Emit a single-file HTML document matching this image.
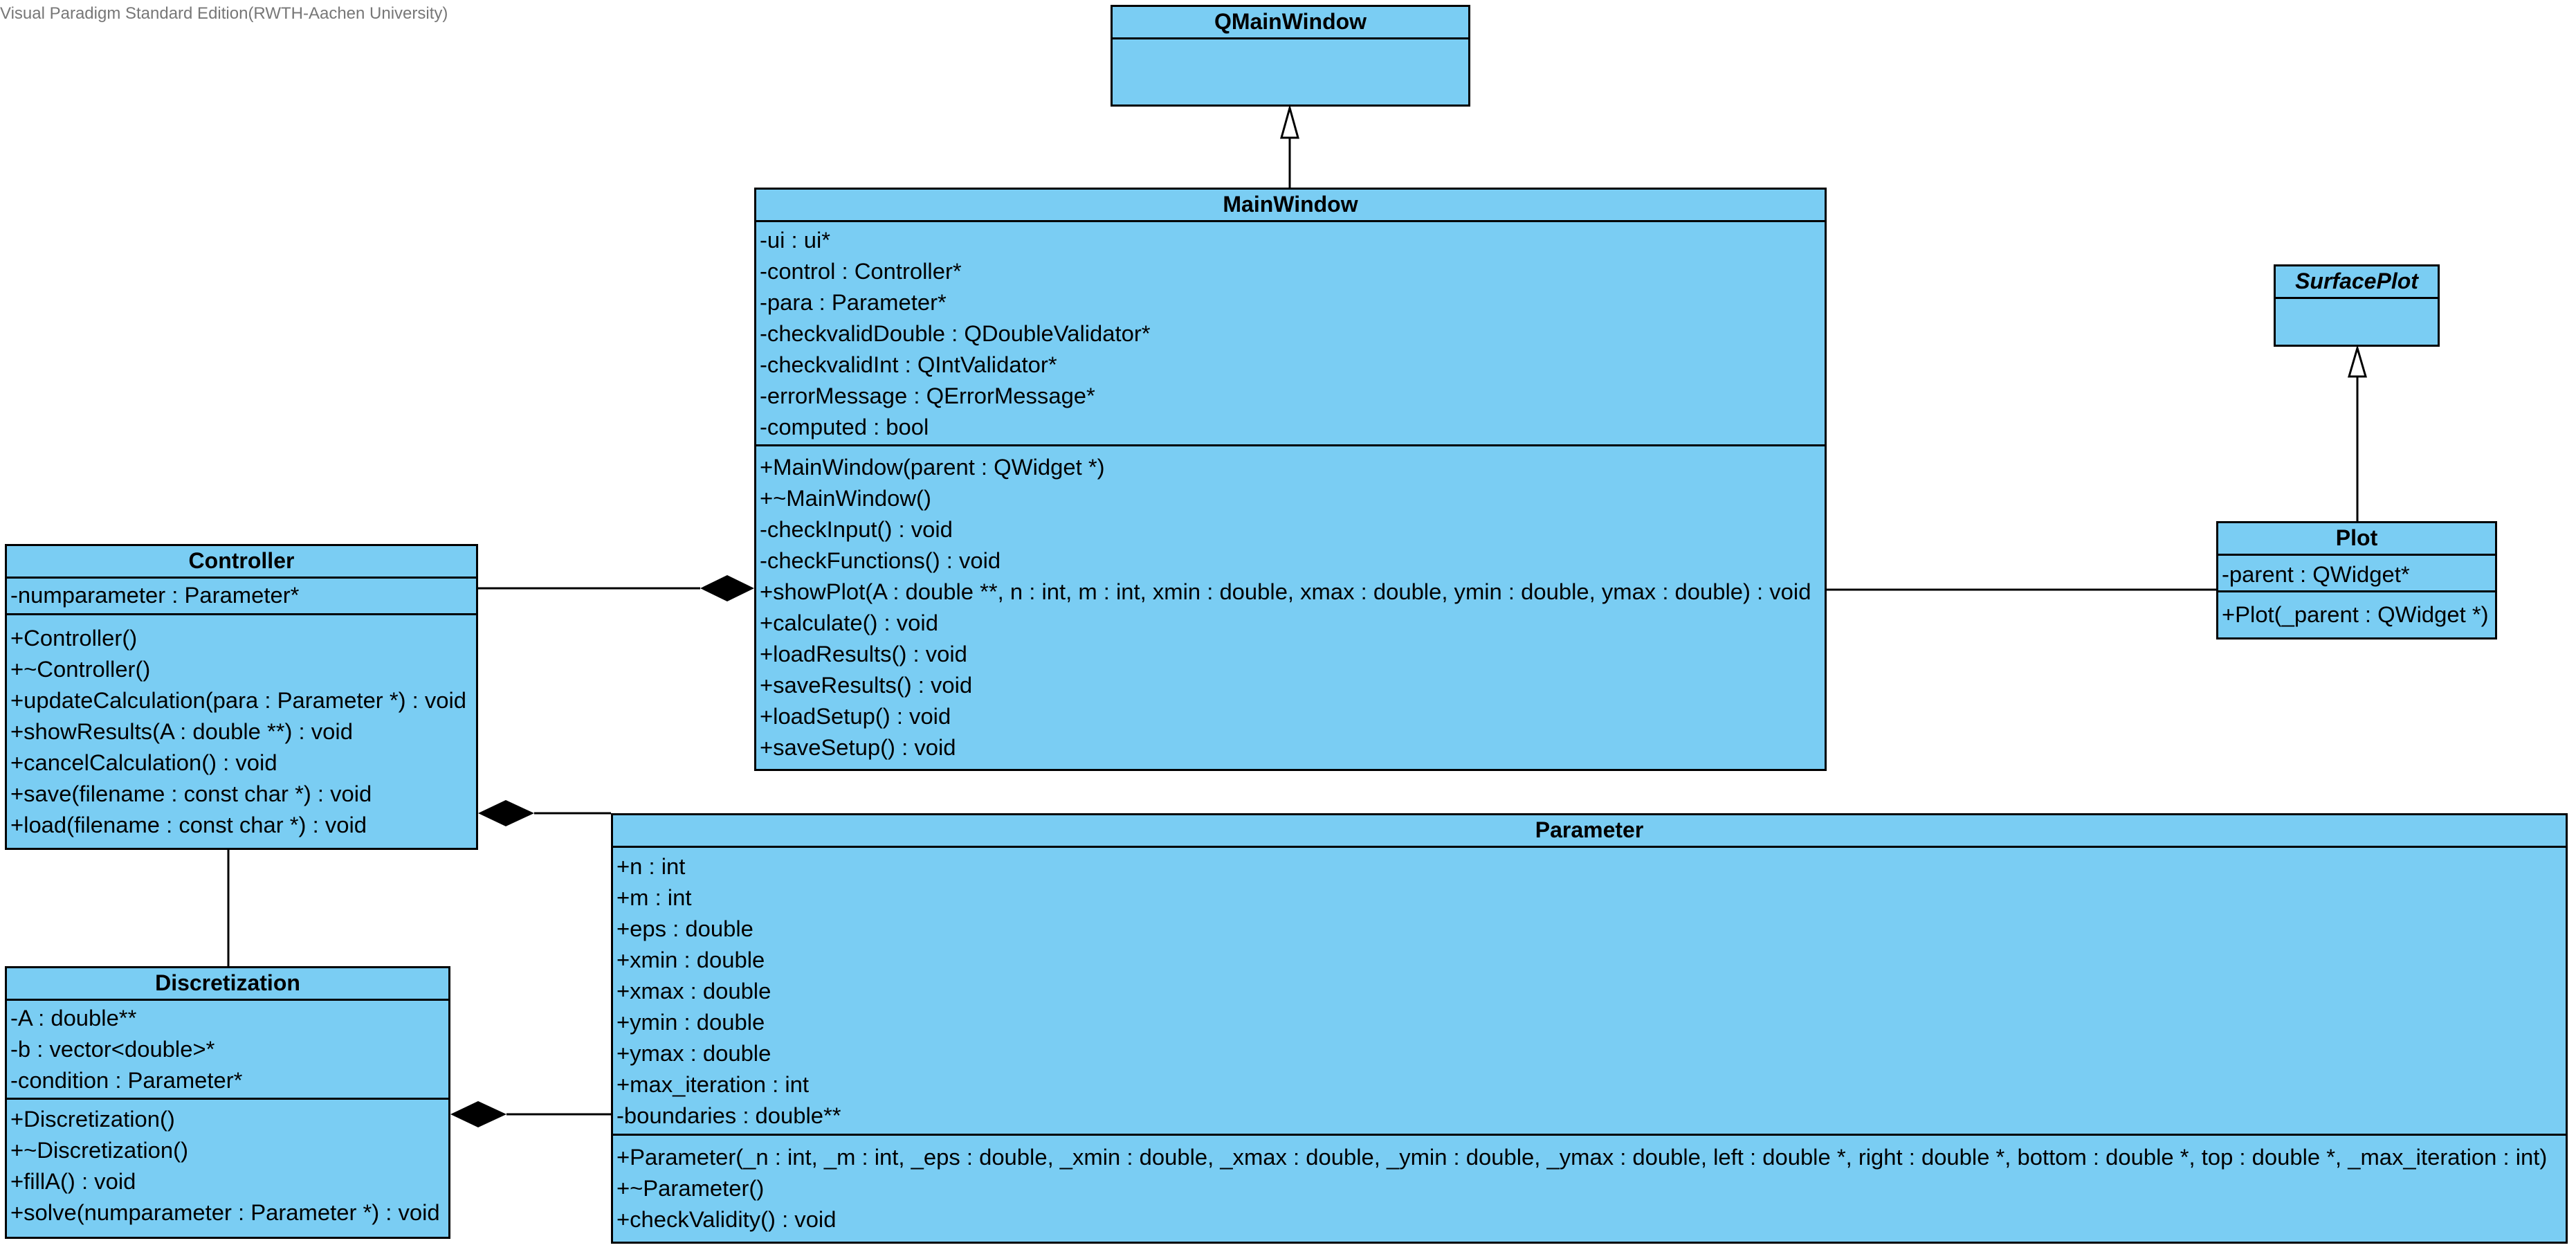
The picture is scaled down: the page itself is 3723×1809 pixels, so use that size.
<!DOCTYPE html>
<html><head><meta charset="utf-8"><style>
body{margin:0;width:3723px;height:1809px;background:#fff;position:relative;overflow:hidden;font-family:"Liberation Sans",Arial,sans-serif;}
.b{position:absolute;box-sizing:border-box;border:3px solid #000;background:#7acdf3;}
.h{position:absolute;left:0;right:0;top:0;box-sizing:border-box;border-bottom:3px solid #000;text-align:center;font-weight:bold;font-size:32px;}
.s{position:absolute;left:0;right:0;box-sizing:border-box;padding-left:5px;font-size:32.8px;line-height:45px;white-space:nowrap;}
.bt{border-top:3px solid #000;}
svg{position:absolute;left:0;top:0;}
</style></head><body>
<div style="position:absolute;left:0;top:6px;font-size:24px;color:#777;">Visual Paradigm Standard Edition(RWTH-Aachen University)</div>

<div class="b" style="left:1605px;top:7px;width:520px;height:147px;">
<div class="h" style="height:47px;line-height:42px;">QMainWindow</div></div>

<div class="b" style="left:1090px;top:271px;width:1550px;height:843px;">
<div class="h" style="height:47px;line-height:42px;">MainWindow</div>
<div class="s" style="top:44px;padding-top:6px;">-ui : ui*<br>-control : Controller*<br>-para : Parameter*<br>-checkvalidDouble : QDoubleValidator*<br>-checkvalidInt : QIntValidator*<br>-errorMessage : QErrorMessage*<br>-computed : bool</div>
<div class="s bt" style="top:368px;padding-top:7px;">+MainWindow(parent : QWidget *)<br>+~MainWindow()<br>-checkInput() : void<br>-checkFunctions() : void<br>+showPlot(A : double **, n : int, m : int, xmin : double, xmax : double, ymin : double, ymax : double) : void<br>+calculate() : void<br>+loadResults() : void<br>+saveResults() : void<br>+loadSetup() : void<br>+saveSetup() : void</div>
</div>

<div class="b" style="left:7px;top:786px;width:684px;height:442px;">
<div class="h" style="height:47px;line-height:42px;">Controller</div>
<div class="s" style="top:44px;padding-top:4px;">-numparameter : Parameter*</div>
<div class="s bt" style="top:97px;padding-top:10px;">+Controller()<br>+~Controller()<br>+updateCalculation(para : Parameter *) : void<br>+showResults(A : double **) : void<br>+cancelCalculation() : void<br>+save(filename : const char *) : void<br>+load(filename : const char *) : void</div>
</div>

<div class="b" style="left:7px;top:1396px;width:644px;height:394px;">
<div class="h" style="height:47px;line-height:42px;">Discretization</div>
<div class="s" style="top:44px;padding-top:5px;">-A : double**<br>-b : vector&lt;double&gt;*<br>-condition : Parameter*</div>
<div class="s bt" style="top:187px;padding-top:5px;">+Discretization()<br>+~Discretization()<br>+fillA() : void<br>+solve(numparameter : Parameter *) : void</div>
</div>

<div class="b" style="left:883px;top:1175px;width:2828px;height:622px;">
<div class="h" style="height:47px;line-height:42px;">Parameter</div>
<div class="s" style="top:44px;padding-top:7px;">+n : int<br>+m : int<br>+eps : double<br>+xmin : double<br>+xmax : double<br>+ymin : double<br>+ymax : double<br>+max_iteration : int<br>-boundaries : double**</div>
<div class="s bt" style="top:460px;padding-top:8px;">+Parameter(_n : int, _m : int, _eps : double, _xmin : double, _xmax : double, _ymin : double, _ymax : double, left : double *, right : double *, bottom : double *, top : double *, _max_iteration : int)<br>+~Parameter()<br>+checkValidity() : void</div>
</div>

<div class="b" style="left:3286px;top:382px;width:240px;height:119px;">
<div class="h" style="height:47px;line-height:42px;font-style:italic;">SurfacePlot</div></div>

<div class="b" style="left:3203px;top:753px;width:406px;height:171px;">
<div class="h" style="height:47px;line-height:42px;">Plot</div>
<div class="s" style="top:44px;padding-top:7px;">-parent : QWidget*</div>
<div class="s bt" style="top:97px;padding-top:9px;">+Plot(_parent : QWidget *)</div>
</div>

<svg width="3723" height="1809">
<g stroke="#000" stroke-width="3" fill="none">
<line x1="1864" y1="199" x2="1864" y2="271"/>
<polygon points="1864,156 1852,199 1876,199" fill="#fff"/>
<line x1="3407" y1="544" x2="3407" y2="753"/>
<polygon points="3407,503 3395,544 3419,544" fill="#fff"/>
<line x1="691" y1="850" x2="1012" y2="850"/>
<line x1="2640" y1="852" x2="3203" y2="852"/>
<line x1="772" y1="1175" x2="883" y2="1175"/>
<line x1="330" y1="1228" x2="330" y2="1396"/>
<line x1="732" y1="1610" x2="883" y2="1610"/>
</g>
<g fill="#000">
<polygon points="1012,850 1051,831 1090,850 1051,869"/>
<polygon points="691,1175 731,1156 772,1175 731,1194"/>
<polygon points="651,1610 691,1591 732,1610 691,1629"/>
</g>
</svg>
</body></html>
